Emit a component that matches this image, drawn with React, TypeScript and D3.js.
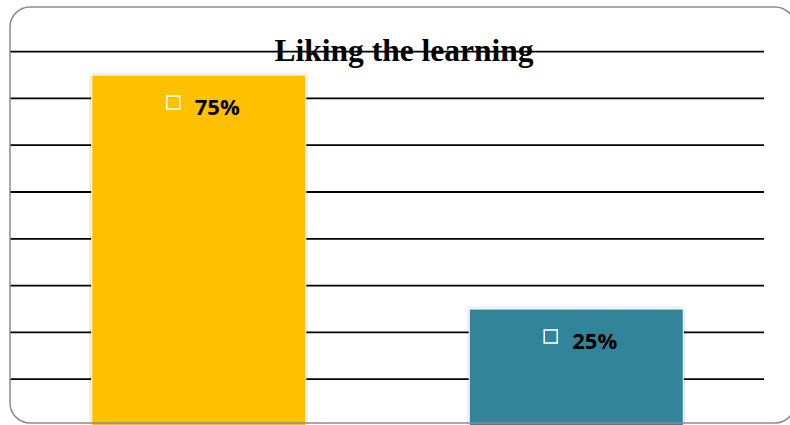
import React from 'react';
import * as d3 from 'd3';

const categories = ['Like', 'Do not like'];
const values = [75, 25];
const barColors = ['#FFC000', '#31849B'];
const gridTicks = [10, 20, 30, 40, 50, 60, 70, 80];
const title = 'Liking the learning';

const W = 790;
const H = 425;

const App: React.FC = () => {
  const x = d3.scaleBand<string>()
    .domain(categories)
    .range([10, 765])
    .paddingInner(0.433)
    .paddingOuter(0.2165);

  const y = d3.scaleLinear().domain([0, 80]).range([426, 51.6]);

  return (
    <svg width={W} height={H} style={{ position: 'absolute', left: 0, top: 0 }}>
      <defs>
        <filter id="barShadow" x="-5%" y="-5%" width="110%" height="110%">
          <feDropShadow dx="0" dy="0" stdDeviation="1.5" floodColor="#000" floodOpacity="0.3" />
        </filter>
      </defs>
      <rect x={0} y={0} width={W} height={H} fill="#fff" />

      {/* gridlines */}
      {gridTicks.map(t => (
        <line key={t} x1={10} x2={764} y1={y(t)} y2={y(t)} stroke="#000" strokeWidth={1.8} />
      ))}

      {/* bars */}
      {categories.map((c, i) => (
        <rect
          key={c}
          x={x(c)}
          y={y(values[i])}
          width={x.bandwidth()}
          height={y(0) - y(values[i]) + 5}
          fill={barColors[i]}
          stroke="#fff"
          strokeWidth={1}
          filter="url(#barShadow)"
        />
      ))}

      {/* labels */}
      {categories.map((c, i) => {
        const cx = (x(c) || 0) + x.bandwidth() / 2;
        const cy = y(values[i]) + 32;
        return (
          <g key={c + '-lbl'}>
            <rect x={cx - 32} y={cy - 11} width={13} height={13} fill="none" stroke="#fff" strokeWidth={1.6} />
            <text
              x={cx - 4}
              y={cy + 8}
              fontFamily="'Open Sans', 'Liberation Sans', sans-serif"
              fontWeight="bold"
              fontSize={22}
              fill="#000"
            >
              {values[i]}%
            </text>
          </g>
        );
      })}

      {/* title */}
      <text
        x={404}
        y={61}
        textAnchor="middle"
        fontFamily="'Liberation Serif', 'Times New Roman', serif"
        fontWeight="bold"
        fontSize={31.5}
        fill="#000"
      >
        {title}
      </text>

      {/* frame */}
      <rect x={10} y={7} width={785} height={416} rx={20} ry={20} fill="none" stroke="#8c8c8c" strokeWidth={1.5} />
    </svg>
  );
};

export default App;
